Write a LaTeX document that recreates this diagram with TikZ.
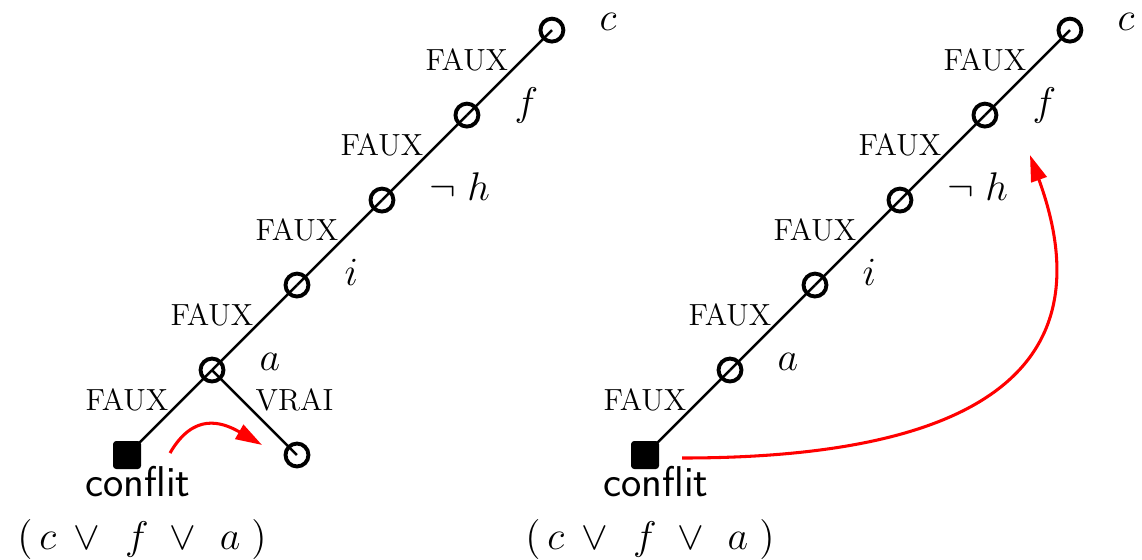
\documentclass[tikz,border=0pt]{standalone}
\usetikzlibrary{arrows.meta}

\begin{document}
\begin{tikzpicture}[
      var/.style={circle, draw, line width=1.4pt, inner sep=0pt, minimum size=0.29cm},
      conf/.style={rectangle, rounded corners=1pt, draw, fill=black, inner sep=0pt, minimum size=0.34cm},
      edge/.style={line width=0.9pt},
      faux/.style={anchor=south east, inner sep=0pt, font=\fontsize{11}{13}\selectfont},
      vrai/.style={anchor=south west, inner sep=0pt, font=\fontsize{11}{13}\selectfont},
      lit/.style={anchor=base west, inner sep=0pt, font=\Large},
      back/.style={red, line width=1.1pt, -{Triangle[length=9.5pt, width=5.8pt]}}]
      \useasboundingbox (-1.607,-1.328) rectangle (12.84,5.756);

      % the two search trees
      \foreach \t/\ox/\fx in {L/0/0.19, R/6.553/0.063} {
        \node[conf] (\t0) at (\ox,0) {};
        \node[var] (\t1) at (\ox+1.075,1.075) {};
        \node[var] (\t2) at (\ox+2.15,2.15) {};
        \node[var] (\t3) at (\ox+3.225,3.225) {};
        \node[var] (\t4) at (\ox+4.3,4.3) {};
        \node[var] (\t5) at (\ox+5.375,5.375) {};
        \foreach \i/\j in {0/1, 1/2, 2/3, 3/4, 4/5}
          \draw[edge] (\t\i.center) -- node[faux] {FAUX} (\t\j.center);
        \node[lit] (\t a) at ([xshift=0.595cm]\t1.center) {$a$};
        \node[lit] (\t i) at ([xshift=0.595cm]\t2.center) {$i$};
        \node[lit] (\t h) at ([xshift=0.595cm]\t3.center) {$\neg\; h$};
        \node[lit] (\t f) at ([xshift=0.595cm]\t4.center) {$f$};
        \node[lit] (\t c) at ([xshift=0.595cm]\t5.center) {$c$};
        \node[anchor=base, font=\fontsize{15.5}{18}\selectfont\sffamily] (\t conf) at ([xshift=0.14cm, yshift=-0.53cm]\t0.center) {conflit};
        \node[anchor=base, font=\Large] (\t clause) at ([xshift=\fx cm, yshift=-1.19cm]\t0.center)
          {$(\mkern3mu c \mkern4mu\vee\mkern7mu f \mkern5.5mu\vee\mkern6.5mu a\mkern5mu)$};
      }

      % branche VRAI
      \node[var] (Lv) at (2.15,0) {};
      \draw[edge] (L1.center) -- node[vrai] {VRAI} (Lv.center);

      % retours arriere
      \coordinate (bkL1) at ([shift={(0.544,0.025)}]L0.center);
      \coordinate (bkL2) at ([shift={(1.708,0.127)}]L0.center);
      \coordinate (bkR1) at ([shift={(0.468,-0.038)}]R0.center);
      \coordinate (bkR2) at ([shift={(4.87,3.795)}]R0.center);
      \draw[back] (bkL1) to[out=60, in=150, looseness=1.3] (bkL2);
      \draw[back] (bkR1) to[out=0, in=-70, looseness=1.4] (bkR2);
    \end{tikzpicture}
\end{document}
